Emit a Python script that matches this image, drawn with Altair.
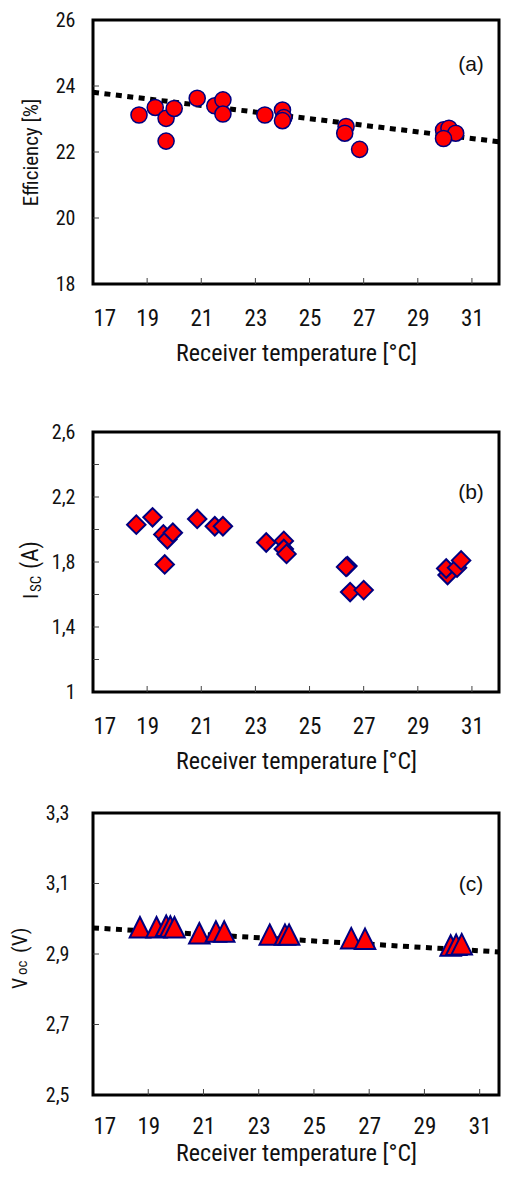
import altair as alt
import pandas as pd

# ---------------- data ----------------
# Panel (a): efficiency vs receiver temperature
temp_a = [18.7, 19.3, 19.7, 19.7, 20.0, 20.85, 21.5, 21.8, 21.8, 23.35, 24.0, 24.05, 24.0,
          26.35, 26.3, 26.85, 29.95, 30.15, 30.4, 29.95]
eff_a = [23.12, 23.35, 23.02, 22.33, 23.32, 23.63, 23.40, 23.58, 23.15, 23.12, 23.27, 23.04, 22.95,
         22.77, 22.57, 22.08, 22.67, 22.72, 22.57, 22.41]
trend_a_x = [17, 32]
trend_a_y = [23.81, 22.31]

# Panel (b): short-circuit current
temp_b = [18.6, 19.2, 19.6, 19.75, 19.95, 19.65, 20.85, 21.5, 21.8, 23.4, 24.05, 24.05, 24.15,
          26.4, 26.35, 26.5, 27.0, 30.1, 30.05, 30.45, 30.6]
isc_b = [2.03, 2.075, 1.97, 1.94, 1.98, 1.785, 2.065, 2.02, 2.02, 1.92, 1.93, 1.88, 1.85,
         1.775, 1.77, 1.615, 1.627, 1.72, 1.76, 1.765, 1.81]

# Panel (c): open-circuit voltage
temp_c = [18.7, 19.3, 19.65, 19.8, 19.95, 20.85, 21.45, 21.75, 23.4, 23.95, 24.1, 26.35, 26.85,
          29.95, 30.15, 30.35]
voc_c = [2.976, 2.976, 2.980, 2.978, 2.976, 2.959, 2.964, 2.964, 2.955, 2.955, 2.955, 2.945, 2.943,
         2.924, 2.926, 2.928]
trend_c_x = [17, 31.7]
trend_c_y = [2.974, 2.906]

x_ticks = [17, 19, 21, 23, 25, 27, 29, 31]
y_ticks_a = [18, 20, 22, 24, 26]
y_ticks_b = [1.0, 1.2, 1.4, 1.6, 1.8, 2.0, 2.2, 2.4, 2.6]
y_ticks_c = [2.5, 2.7, 2.9, 3.1, 3.3]

x_title = "Receiver temperature [°C]"

NARROW = "Liberation Sans Narrow, Roboto Condensed, Roboto"
RED = "#ff0000"
NAVY = "#000080"
W = 406


def panel(xs, ys, shape, size, stroke_w, ydom, yticks, xdom, height, yfmt,
          label_text, label_y, ytitle=None, title_parts=None, trend=None,
          label_pad=18, x_label_pad=23, title_pad=12, ytitle_x=-52):
    pts = pd.DataFrame({"t": xs, "v": ys})
    xscale = alt.Scale(domain=xdom, nice=False, zero=False)
    yscale = alt.Scale(domain=ydom, nice=False, zero=False)
    yaxis_kw = dict(values=yticks, grid=False, domain=False, ticks=False, tickSize=0,
                    labelFont=NARROW, labelFontSize=20, labelPadding=label_pad,
                    labelColor="#111")
    if yfmt == "comma":
        yaxis_kw["format"] = ".1~f"
        yaxis_kw["labelExpr"] = "replace(datum.label, '.', ',')"
    if ytitle is not None:
        yaxis_kw.update(title=ytitle, titleFont=NARROW, titleFontSize=21,
                        titleFontWeight="normal", titleX=ytitle_x, titleBaseline="bottom",
                        titleColor="#111")
    else:
        yaxis_kw["title"] = None
    xaxis = alt.Axis(values=x_ticks, grid=False, domain=False, ticks=False, tickSize=0,
                     labelFont=NARROW, labelFontSize=23, labelPadding=x_label_pad,
                     labelColor="#111",
                     title=x_title, titleFont=NARROW, titleFontSize=24,
                     titleFontWeight="normal", titlePadding=title_pad, titleColor="#111")

    layers = []

    # inward tick marks
    xt = pd.DataFrame({"t": x_ticks[1:]})
    layers.append(alt.Chart(xt).mark_rule(color="#444", strokeWidth=1).encode(
        x=alt.X("t:Q", scale=xscale, axis=xaxis),
        y=alt.value(height), y2=alt.value(height - 6)))
    yt = pd.DataFrame({"v": yticks[1:-1]})
    layers.append(alt.Chart(yt).mark_rule(color="#444", strokeWidth=1).encode(
        y=alt.Y("v:Q", scale=yscale, axis=alt.Axis(**yaxis_kw)),
        x=alt.value(0), x2=alt.value(6)))

    if trend is not None:
        tdf = pd.DataFrame({"t": trend[0], "v": trend[1]})
        layers.append(alt.Chart(tdf).mark_line(
            color="black", strokeWidth=5, strokeDash=[6, 5.5], strokeCap="butt").encode(
            x=alt.X("t:Q", scale=xscale), y=alt.Y("v:Q", scale=yscale)))

    layers.append(alt.Chart(pts).mark_point(shape=shape, size=size, filled=True, fill=RED,
                                            stroke=NAVY, strokeWidth=stroke_w,
                                            opacity=1).encode(
        x=alt.X("t:Q", scale=xscale), y=alt.Y("v:Q", scale=yscale)))

    layers.append(alt.Chart(pd.DataFrame({"s": [label_text]})).mark_text(
        font="Liberation Sans", fontSize=21, color="#111", align="center",
        baseline="middle").encode(text="s:N", x=alt.value(W - 28), y=alt.value(label_y)))

    if title_parts is not None:
        for txt, fs, px, py in title_parts:
            layers.append(alt.Chart(pd.DataFrame({"s": [txt]})).mark_text(
                font=NARROW, fontSize=fs, color="#111", angle=270, align="left",
                baseline="alphabetic").encode(text="s:N", x=alt.value(px), y=alt.value(py)))

    return alt.layer(*layers).properties(width=W, height=height)


pa = panel(temp_a, eff_a, "circle", 260, 1.5, [18, 26], y_ticks_a, [17, 32], 264, None,
           "(a)", 45, ytitle="Efficiency [%]", trend=(trend_a_x, trend_a_y),
           x_label_pad=23, title_pad=11)

pb = panel(temp_b, isc_b, "diamond", 340, 2, [1, 2.6], y_ticks_b, [17, 32], 260, "comma",
           "(b)", 61,
           title_parts=[("I", 21, -55, 167), ("SC", 15, -52, 160), ("(A)", 23, -55, 137)],
           x_label_pad=23, title_pad=11
           ).properties(title=alt.TitleParams(" ", fontSize=2, offset=27))

pc = panel(temp_c, voc_c, "M0,-1L1,1L-1,1Z", 420, 2, [2.5, 3.3], y_ticks_c, [17, 31.7], 282,
           "comma", "(c)", 72,
           title_parts=[("V", 20, -66, 176), ("oc", 15, -66, 162), ("(V)", 21, -66, 140)],
           label_pad=24, x_label_pad=20, title_pad=3, trend=(trend_c_x, trend_c_y)
           ).properties(title=alt.TitleParams(" ", fontSize=2, offset=0))

chart = alt.vconcat(pa, pb, pc, spacing=24).properties(
    padding={"left": 0, "top": 0, "right": 0, "bottom": 0}, background="white"
).configure_view(stroke="black", strokeWidth=3)

chart.save("out.html", embed_options={"renderer": "svg", "actions": False})
